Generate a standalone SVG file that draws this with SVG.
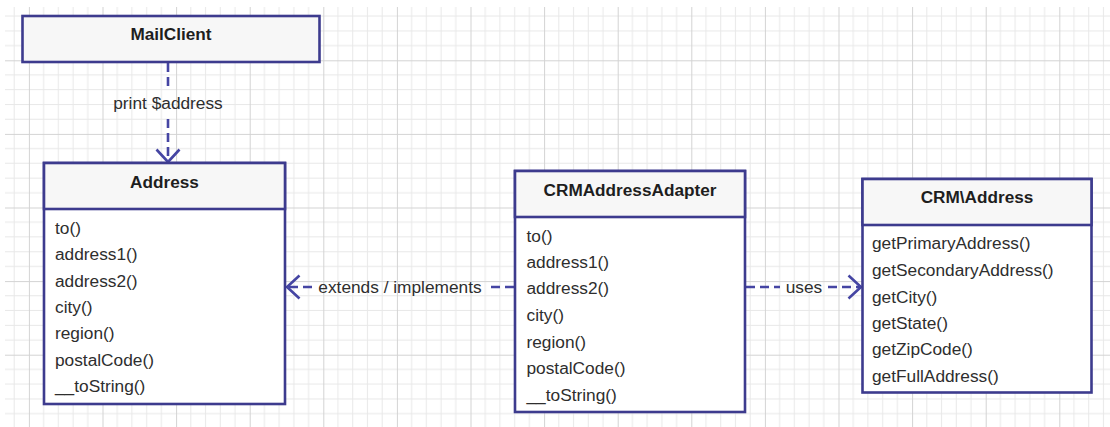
<svg xmlns="http://www.w3.org/2000/svg" width="1110" height="427" viewBox="0 0 1110 427">
  <defs>
    <pattern id="grid" x="28.9" y="60.3" width="73.6" height="73.6" patternUnits="userSpaceOnUse">
      <path d="M14.72,0V73.6M29.44,0V73.6M44.16,0V73.6M58.88,0V73.6M0,14.72H73.6M0,29.44H73.6M0,44.16H73.6M0,58.88H73.6" stroke="#e8e8e8" stroke-width="1" fill="none"/>
      <path d="M0.5,0V73.6M0,0.5H73.6" stroke="#d3d3d3" stroke-width="1" fill="none"/>
    </pattern>
    <marker id="open" viewBox="0 0 16 26" refX="14" refY="13" markerWidth="16" markerHeight="26" markerUnits="userSpaceOnUse" orient="auto">
      <path d="M1.5,1.5 L14,13 L1.5,24.5" fill="none" stroke="#4545a3" stroke-width="2.6" stroke-linejoin="miter"/>
    </marker>
    <style>
      .box { fill: #ffffff; stroke: #3d3b8e; stroke-width: 2.6; }
      .hdr { fill: #f7f7f7; stroke: #3d3b8e; stroke-width: 2.6; }
      .title { font-family: "Liberation Sans", Arial, sans-serif; font-weight: bold; font-size: 17.2px; fill: #1e1e1e; text-anchor: middle; }
      .row { font-family: "Liberation Sans", Arial, sans-serif; font-size: 17.3px; fill: #2e2e2e; }
      .lbl { font-family: "Liberation Sans", Arial, sans-serif; font-size: 17.3px; fill: #2e2e2e; text-anchor: middle; }
      .dash { fill: none; stroke: #4545a3; stroke-width: 2.6; stroke-dasharray: 9 5; }
    </style>
  </defs>

  <rect x="0" y="0" width="1110" height="427" fill="#ffffff"/>
  <rect x="5" y="7" width="1105" height="420" fill="url(#grid)"/>

  <g id="connectors">
    <g id="c-mail-address">
      <path class="dash" d="M168,63 V88"/>
      <path class="dash" d="M168,119 V162" marker-end="url(#open)"/>
      <text class="lbl" x="168" y="109">print $address</text>
    </g>
    <g id="c-adapter-address">
      <path class="dash" d="M514,287 H489"/>
      <path class="dash" d="M312,287 H287" marker-end="url(#open)"/>
      <text class="lbl" x="400" y="293">extends / implements</text>
    </g>
    <g id="c-adapter-crm">
      <path class="dash" d="M746,287 H780"/>
      <path class="dash" d="M828,287 H861" marker-end="url(#open)"/>
      <text class="lbl" x="804" y="293">uses</text>
    </g>
  </g>

  <g id="MailClient">
    <rect class="hdr" x="22.5" y="16" width="297" height="46"/>
    <text class="title" x="171" y="40">MailClient</text>
  </g>

  <g id="Address">
    <rect class="box" x="44" y="163" width="241" height="241"/>
    <rect class="hdr" x="44" y="163" width="241" height="46"/>
    <text class="title" x="164.5" y="188">Address</text>
    <text class="row" x="55" y="234">to()</text>
    <text class="row" x="55" y="260">address1()</text>
    <text class="row" x="55" y="286.5">address2()</text>
    <text class="row" x="55" y="313">city()</text>
    <text class="row" x="55" y="339">region()</text>
    <text class="row" x="55" y="365.5">postalCode()</text>
    <text class="row" x="55" y="391.5">__toString()</text>
  </g>

  <g id="CRMAddressAdapter">
    <rect class="box" x="515" y="171" width="230" height="241"/>
    <rect class="hdr" x="515" y="171" width="230" height="46"/>
    <text class="title" x="630" y="196">CRMAddressAdapter</text>
    <text class="row" x="526.5" y="242">to()</text>
    <text class="row" x="526.5" y="268">address1()</text>
    <text class="row" x="526.5" y="294">address2()</text>
    <text class="row" x="526.5" y="321">city()</text>
    <text class="row" x="526.5" y="347.5">region()</text>
    <text class="row" x="526.5" y="374">postalCode()</text>
    <text class="row" x="526.5" y="401">__toString()</text>
  </g>

  <g id="CRM-Address">
    <rect class="box" x="862.5" y="179" width="229" height="213.5"/>
    <rect class="hdr" x="862.5" y="179" width="229" height="46"/>
    <text class="title" x="977" y="203">CRM\Address</text>
    <text class="row" x="872" y="249">getPrimaryAddress()</text>
    <text class="row" x="872" y="276">getSecondaryAddress()</text>
    <text class="row" x="872" y="303">getCity()</text>
    <text class="row" x="872" y="329">getState()</text>
    <text class="row" x="872" y="355">getZipCode()</text>
    <text class="row" x="872" y="382">getFullAddress()</text>
  </g>
</svg>
